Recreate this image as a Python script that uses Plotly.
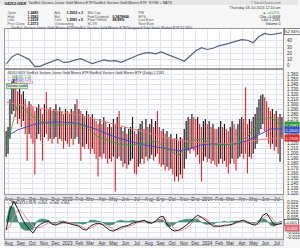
import plotly.graph_objects as go
import pandas as pd

# ---------------- data ----------------
start_date = "2022-07-25"
bar_step = "5D"

close = [1.210, 1.230, 1.286, 1.320, 1.330, 1.310, 1.294, 1.314, 1.290, 1.300,
         1.274, 1.254, 1.280, 1.270, 1.260, 1.240, 1.266, 1.274, 1.260, 1.240,
         1.270, 1.262, 1.254, 1.266, 1.250, 1.260, 1.270, 1.254, 1.266, 1.258,
         1.246, 1.260, 1.254, 1.250, 1.262, 1.254, 1.266, 1.254, 1.258, 1.246,
         1.254, 1.244, 1.258, 1.250, 1.240, 1.250, 1.238, 1.230, 1.220, 1.234,
         1.226, 1.238, 1.230, 1.218, 1.230, 1.220, 1.234, 1.210, 1.226, 1.218,
         1.220, 1.210, 1.220, 1.206, 1.214, 1.220, 1.230, 1.210, 1.200, 1.214,
         1.220, 1.226, 1.214, 1.230, 1.220, 1.226, 1.234, 1.220, 1.230, 1.224,
         1.220, 1.210, 1.214, 1.200, 1.210, 1.198, 1.206, 1.194, 1.190, 1.200,
         1.186, 1.194, 1.190, 1.210, 1.230, 1.246, 1.240, 1.254, 1.246, 1.234,
         1.240, 1.220, 1.210, 1.226, 1.234, 1.222, 1.230, 1.218, 1.226, 1.214,
         1.210, 1.220, 1.230, 1.218, 1.226, 1.214, 1.210, 1.220, 1.230, 1.220,
         1.210, 1.226, 1.234, 1.240, 1.230, 1.226, 1.220, 1.234, 1.230, 1.240,
         1.250, 1.260, 1.280, 1.290, 1.300, 1.286, 1.274, 1.260, 1.250, 1.260,
         1.246, 1.254, 1.240, 1.250, 1.256]

high = [1.246, 1.254, 1.310, 1.346, 1.350, 1.340, 1.326, 1.334, 1.320, 1.326,
        1.310, 1.294, 1.306, 1.300, 1.294, 1.286, 1.294, 1.300, 1.290, 1.280,
        1.300, 1.324, 1.290, 1.294, 1.286, 1.290, 1.300, 1.286, 1.294, 1.286,
        1.280, 1.290, 1.286, 1.280, 1.290, 1.286, 1.300, 1.310, 1.290, 1.286,
        1.280, 1.274, 1.286, 1.280, 1.274, 1.280, 1.270, 1.266, 1.260, 1.270,
        1.260, 1.274, 1.266, 1.254, 1.260, 1.254, 1.270, 1.260, 1.274, 1.286,
        1.254, 1.246, 1.254, 1.240, 1.250, 1.254, 1.274, 1.246, 1.240, 1.250,
        1.260, 1.266, 1.250, 1.270, 1.254, 1.260, 1.270, 1.254, 1.266, 1.286,
        1.254, 1.246, 1.250, 1.240, 1.246, 1.234, 1.240, 1.230, 1.230, 1.240,
        1.226, 1.234, 1.230, 1.250, 1.266, 1.274, 1.270, 1.280, 1.274, 1.270,
        1.274, 1.260, 1.254, 1.266, 1.270, 1.260, 1.266, 1.254, 1.260, 1.250,
        1.250, 1.254, 1.266, 1.254, 1.260, 1.250, 1.246, 1.254, 1.266, 1.260,
        1.250, 1.260, 1.270, 1.274, 1.270, 1.334, 1.260, 1.270, 1.266, 1.274,
        1.280, 1.294, 1.310, 1.318, 1.320, 1.314, 1.306, 1.294, 1.286, 1.290,
        1.280, 1.286, 1.274, 1.280, 1.274]

low = [1.194, 1.200, 1.230, 1.280, 1.286, 1.274, 1.260, 1.270, 1.254, 1.266,
       1.240, 1.186, 1.240, 1.230, 1.220, 1.158, 1.230, 1.240, 1.226, 1.186,
       1.234, 1.240, 1.226, 1.230, 1.220, 1.230, 1.234, 1.220, 1.230, 1.226,
       1.210, 1.226, 1.220, 1.214, 1.230, 1.218, 1.230, 1.234, 1.220, 1.186,
       1.214, 1.210, 1.220, 1.210, 1.200, 1.210, 1.200, 1.190, 1.154, 1.194,
       1.190, 1.200, 1.190, 1.180, 1.190, 1.184, 1.194, 1.124, 1.190, 1.194,
       1.186, 1.174, 1.180, 1.170, 1.178, 1.186, 1.190, 1.160, 1.158, 1.174,
       1.180, 1.190, 1.180, 1.194, 1.186, 1.190, 1.198, 1.186, 1.194, 1.200,
       1.180, 1.174, 1.178, 1.166, 1.174, 1.166, 1.170, 1.158, 1.144, 1.154,
       1.144, 1.158, 1.150, 1.170, 1.190, 1.206, 1.200, 1.210, 1.206, 1.194,
       1.198, 1.180, 1.144, 1.186, 1.194, 1.184, 1.190, 1.180, 1.186, 1.178,
       1.174, 1.180, 1.190, 1.180, 1.186, 1.174, 1.160, 1.180, 1.190, 1.180,
       1.166, 1.190, 1.194, 1.200, 1.190, 1.200, 1.160, 1.194, 1.190, 1.200,
       1.210, 1.220, 1.240, 1.250, 1.260, 1.246, 1.234, 1.220, 1.210, 1.220,
       1.206, 1.214, 1.200, 1.184, 1.230]

# moving averages, one value every 6th bar
ema_short = [1.210, 1.300, 1.280, 1.266, 1.258, 1.258, 1.262, 1.254, 1.234, 1.226,
             1.218, 1.218, 1.220, 1.226, 1.210, 1.196, 1.226, 1.230, 1.218, 1.218,
             1.220, 1.234, 1.266, 1.274, 1.256]
ma_mid = [1.234, 1.248, 1.256, 1.262, 1.264, 1.264, 1.262, 1.256, 1.248, 1.238,
          1.230, 1.224, 1.218, 1.214, 1.210, 1.206, 1.210, 1.218, 1.220, 1.218,
          1.220, 1.226, 1.238, 1.250, 1.250]
ma_long = [1.304, 1.300, 1.296, 1.292, 1.288, 1.284, 1.280, 1.274, 1.268, 1.262,
           1.256, 1.250, 1.244, 1.238, 1.232, 1.228, 1.224, 1.222, 1.220, 1.220,
           1.222, 1.224, 1.228, 1.230, 1.232]

# performance (%), one value every 3rd bar
perf = [2, 14, 19, 15, 10, -2, -1, 3, 7, 10, 5, 6, 9, 11, 7, 3, 6, 9, 7, 8,
        5, 9, 14, 17, 20, 21, 19, 22, 18, 15, 11, 7, 15, 24, 29, 26, 28, 32, 34, 37,
        40, 42, 41, 37, 47, 52, 50, 52, 52.94]

# MACD, one value every 2nd bar
macd = [-0.008, 0.012, 0.021, 0.014, 0.005, -0.002, -0.007, -0.011, -0.005, -0.002,
        0.000, 0.001, -0.002, -0.003, -0.001, 0.000, -0.001, -0.002, -0.003, -0.004,
        -0.007, -0.008, -0.004, -0.002, -0.001, -0.002, -0.005, -0.008, -0.009, -0.007,
        -0.005, -0.004, -0.003, -0.001, 0.000, 0.001, 0.002, 0.000, -0.001, 0.001,
        0.005, 0.006, -0.002, -0.007, -0.009, -0.008, -0.006, -0.003, 0.000, 0.004,
        0.007, 0.005, 0.002, -0.001, -0.004, -0.004, -0.004, -0.003, -0.003, -0.002,
        0.000, 0.001, 0.002, 0.000, -0.002, -0.003, 0.000, 0.007, 0.009, 0.003,
        -0.003, -0.002, -0.001]
signal = [-0.008, -0.004, 0.006, 0.012, 0.011, 0.006, 0.001, -0.004, -0.006, -0.005,
          -0.003, -0.001, -0.001, -0.002, -0.002, -0.001, -0.001, -0.001, -0.002, -0.003,
          -0.005, -0.007, -0.006, -0.004, -0.002, -0.002, -0.003, -0.005, -0.007, -0.008,
          -0.007, -0.005, -0.004, -0.003, -0.001, 0.000, 0.001, 0.001, 0.000, 0.000,
          0.002, 0.004, 0.002, -0.003, -0.007, -0.009, -0.008, -0.006, -0.003, 0.001,
          0.004, 0.005, 0.004, 0.001, -0.002, -0.004, -0.004, -0.004, -0.003, -0.003,
          -0.001, 0.000, 0.001, 0.001, -0.001, -0.002, -0.002, 0.003, 0.007, 0.006,
          0.001, -0.002, -0.002]

month_labels = ["Aug", "Sep", "Oct", "Nov", "Dec", "2023", "Feb", "Mar", "Apr", "May", "Jun", "Jul",
                "Aug", "Sep", "Oct", "Nov", "Dec", "2024", "Feb", "Mar", "Apr", "May", "Jun", "Jul"]
perf_ticks = [0, 10, 20, 30, 40]
price_ticks = [1.12, 1.13, 1.14, 1.15, 1.16, 1.17, 1.18, 1.19, 1.20, 1.21, 1.22, 1.23,
               1.24, 1.25, 1.26, 1.27, 1.28, 1.29, 1.30, 1.31, 1.32, 1.33, 1.34, 1.35, 1.36]
price_covered = [1.23, 1.25, 1.26]          # labels hidden behind value boxes
macd_ticks = [-0.015, -0.010, -0.005, 0.000, 0.005, 0.010, 0.015, 0.020]
macd_covered = [-0.005, 0.000]

# ---------------- figure ----------------
W, H = 300, 248
FONT = "Liberation Sans, Arial, sans-serif"
dates = pd.date_range(start_date, periods=len(close), freq=bar_step)
month_ticks = pd.date_range("2022-08-01", periods=len(month_labels), freq="MS")
xr = ["2022-07-22", "2024-07-17"]


def px(x):
    return x / W


def py(y):
    return 1 - y / H


up_x, up_y, dn_x, dn_y = [], [], [], []
for i, (d, h, l, c) in enumerate(zip(dates, high, low, close)):
    down = i > 0 and c < close[i - 1]
    if down:
        dn_x += [d, d, None]
        dn_y += [l, h, None]
    else:
        up_x += [d, d, None]
        up_y += [l, h, None]

hist = [m - s for m, s in zip(macd, signal)]

fig = go.Figure()
fig.add_trace(go.Scatter(x=dates[::3], y=perf, mode="lines",
                         line=dict(color="#56617e", width=1.2), xaxis="x", yaxis="y"))
fig.add_trace(go.Scatter(x=up_x, y=up_y, mode="lines",
                         line=dict(color="#151515", width=1.15), xaxis="x2", yaxis="y2"))
fig.add_trace(go.Scatter(x=dn_x, y=dn_y, mode="lines",
                         line=dict(color="rgba(227,20,27,0.9)", width=1.15), xaxis="x2", yaxis="y2"))
fig.add_trace(go.Scatter(x=dates[::6], y=ma_long, mode="lines",
                         line=dict(color="#f07a7a", width=0.9), xaxis="x2", yaxis="y2"))
fig.add_trace(go.Scatter(x=dates[::6], y=ma_mid, mode="lines",
                         line=dict(color="#4040d8", width=0.9), xaxis="x2", yaxis="y2"))
fig.add_trace(go.Scatter(x=dates[::6], y=ema_short, mode="lines",
                         line=dict(color="#3aa03a", width=0.9), xaxis="x2", yaxis="y2"))
fig.add_trace(go.Scatter(x=dates[::2], y=hist, mode="lines", fill="tozeroy",
                         fillcolor="rgba(38,128,96,0.85)",
                         line=dict(color="#2a7a60", width=0.6), xaxis="x3", yaxis="y3"))
fig.add_trace(go.Scatter(x=dates[::2], y=signal, mode="lines",
                         line=dict(color="#e88a96", width=1.0), xaxis="x3", yaxis="y3"))
fig.add_trace(go.Scatter(x=dates[::2], y=macd, mode="lines",
                         line=dict(color="#222222", width=1.0), xaxis="x3", yaxis="y3"))

xdom = [px(5), px(285)]
xcommon = dict(type="date", range=xr, showgrid=True, gridcolor="#e1e4ec", gridwidth=0.6,
               tickvals=month_ticks, ticktext=month_labels, showline=True, linecolor="#9a9a9a",
               linewidth=0.8, mirror=True, ticks="", zeroline=False, domain=xdom,
               tickfont=dict(family=FONT, size=4.5, color="#333"))
ycommon = dict(side="right", showgrid=True, gridcolor="#e1e4ec", gridwidth=0.6, showline=True,
               linecolor="#9a9a9a", linewidth=0.8, mirror=True, ticks="", zeroline=False,
               tickfont=dict(family=FONT, size=4.5, color="#333"), ticklabelstandoff=2)

price_text = ["" if any(abs(t - c) < 1e-9 for c in price_covered) else f"{t:.3f}" for t in price_ticks]
macd_text = ["" if any(abs(t - c) < 1e-9 for c in macd_covered) else f"{t:.3f}" for t in macd_ticks]

fig.update_layout(
    width=W, height=H, margin=dict(l=0, r=0, t=0, b=0),
    paper_bgcolor="#f6f6f6", plot_bgcolor="#fdfdfe", showlegend=False,
    xaxis=dict(anchor="y", showticklabels=False, **xcommon),
    xaxis2=dict(anchor="y2", matches="x", showticklabels=True, **xcommon),
    xaxis3=dict(anchor="y3", matches="x", showticklabels=True, **xcommon),
    yaxis=dict(domain=[py(69), py(29)], range=[-4.8, 59.7], tickvals=perf_ticks,
               ticksuffix="%", **ycommon),
    yaxis2=dict(domain=[py(196), py(71)], range=[1.118, 1.368], tickvals=price_ticks,
                ticktext=price_text, **ycommon),
    yaxis3=dict(domain=[py(241), py(202)], range=[-0.017, 0.022], tickvals=macd_ticks,
                ticktext=macd_text, **ycommon),
)

shapes = [
    dict(type="rect", xref="paper", yref="paper", x0=0, x1=1, y0=py(5), y1=1,
         fillcolor="#e6e6e6", line=dict(width=0), layer="below"),
    dict(type="rect", xref="paper", yref="paper", x0=px(5), x1=px(285), y0=py(201.5), y1=py(196),
         fillcolor="#e4e5ea", line=dict(color="#9a9a9a", width=0.6), layer="below"),
    dict(type="rect", xref="paper", yref="paper", x0=px(5), x1=px(285), y0=py(247.5), y1=py(241),
         fillcolor="#e4e5ea", line=dict(color="#9a9a9a", width=0.6), layer="below"),
]
fig.update_layout(shapes=shapes)


def txt(x, y, s, size=4.3, color="#222", anchor="left", bold=False, bg=None, border=None):
    if bold:
        s = "<b>" + s + "</b>"
    a = dict(x=px(x), y=py(y), xref="paper", yref="paper", text=s, showarrow=False,
             xanchor=anchor, yanchor="middle", font=dict(family=FONT, size=size, color=color),
             borderpad=0.5)
    if bg:
        a["bgcolor"] = bg
    if border:
        a["bordercolor"] = border
        a["borderwidth"] = 0.6
    fig.add_annotation(**a)


# header
txt(3, 2.6, "GDXJ:GDX", 4.2, "#111", bold=True)
txt(27, 2.6, "VanEck Vectors Junior Gold Miners ETF/VanEck Vectors Gold Miners ETF  NYSE + BATS", 3.6, "#333")
txt(284, 2.6, "© StockCharts.com", 3.5, "#666", anchor="right")
txt(284, 8, "Thursday 18-Jul-2024 12:10 am", 3.6, "#333", anchor="right")
rows = [("Open", "1.2485", "Ask", "1.2503 x 3", "Mkt Cap", "", "P/E"),
        ("High", "1.2583", "Bid", "", "Fwd Dividend", "0.5478666", "EPS"),
        ("Low", "1.2318", "Last", "1.2581 x 5", "Float %Held", "88.99%", "Last Earn"),
        ("Prev Close", "1.2373", "Outstanding", "", "SCTR", "", "Next Earn")]
for r, yy in zip(rows, [12.5, 16.3, 20.1, 23.9]):
    txt(6, yy, r[0], 3.5, "#555")
    txt(26, yy, r[1], 3.5, "#111", bold=True)
    txt(53, yy, r[2], 3.5, "#555")
    txt(65, yy, r[3], 3.5, "#111", bold=True)
    txt(87, yy, r[4], 3.5, "#555")
    txt(112, yy, r[5], 3.5, "#111", bold=True)
    txt(138, yy, r[6], 3.5, "#555")
txt(284, 12.5, "▲ +0.07%", 3.6, "#2a8a2a", anchor="right")
txt(284, 16.3, "Chg +0.0008", 3.6, "#222", anchor="right")
txt(284, 20.1, "Last 1.2581", 3.6, "#222", anchor="right")
txt(284, 23.9, "Volume 0", 3.6, "#222", anchor="right")
txt(5, 28, "— VanEck Vectors Junior Gold Miners ETF/VanEck Vectors Gold Miners ETF/Vanguard Total Stock Market ETF 52.94%",
    3.5, "#34405e")

# panel labels
txt(6, 73, "GDXJ:GDX VanEck Vectors Junior Gold Miners ETF/VanEck Vectors Gold Miners ETF (Daily) 1.2581", 3.5, "#222")
txt(6, 76.8, "— MA(20) 1.26", 3.5, "#2f8f2f")
txt(6, 80.2, "— MA(50) 1.25", 3.5, "#3535c8")
txt(6, 83.6, "— MA(200) 1.23", 3.5, "#d83a3a")
txt(6, 87, "Volume undef", 3.3, "#222", bg="#d9ecd9", border="#5a9a5a")
txt(6, 204.5, "— MACD(12,26,9) -0.001, -0.002, 0.001", 3.5, "#222")

# value boxes on the right axes
txt(286, 32, "52.94%", 4.2, "#111", bg="#ffffff", border="#333")
txt(286, 126, "1.2581", 4.2, "#fff", bg="#2f9a3a")
txt(286, 131, "1.2501", 4.2, "#fff", bg="#3b4fc8")
txt(286, 139, "1.2305", 4.2, "#fff", bg="#d92a2a")
txt(286, 224.5, "-0.001", 4.2, "#111", bg="#ffffff", border="#333")
txt(286, 229.5, "-0.002", 4.2, "#fff", bg="#e0707e")

fig.write_html("out.html")
